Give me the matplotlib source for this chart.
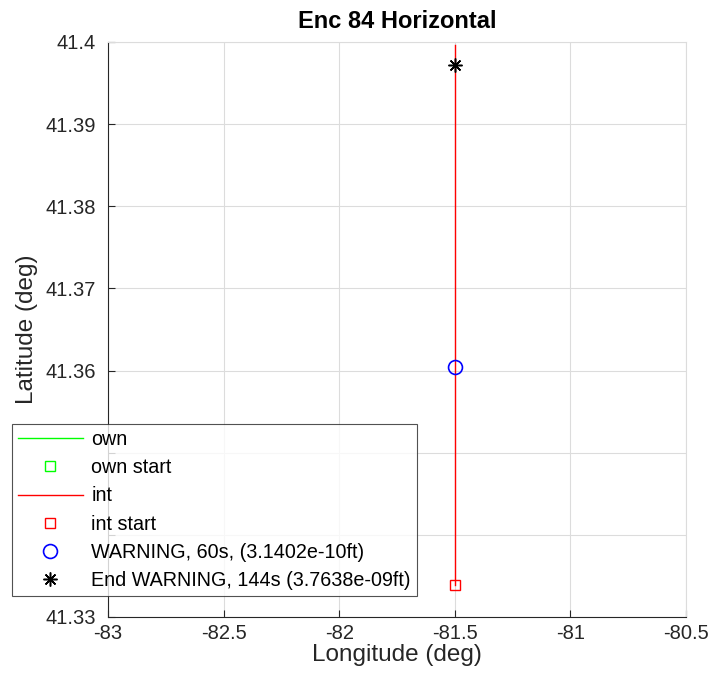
import numpy as np
import matplotlib
matplotlib.use("Agg")
import matplotlib.pyplot as plt

plt.rcParams['font.family'] = ['Liberation Sans', 'DejaVu Sans']

# track data (lon, lat); ownship track lies outside this view
own_lon = []
own_lat = []
int_lon = [-81.5, -81.5]
int_lat = [41.3339, 41.3996]
warn_lon, warn_lat = -81.5, 41.3604
end_lon, end_lat = -81.5, 41.3972

xticks = [-83, -82.5, -82, -81.5, -81, -80.5]
xtick_labels = ['-83', '-82.5', '-82', '-81.5', '-81', '-80.5']
yticks = [41.33, 41.34, 41.35, 41.36, 41.37, 41.38, 41.39, 41.40]
ytick_labels = ['41.33', '', '', '41.36', '41.37', '41.38', '41.39', '41.4']

fig = plt.figure(figsize=(7.11, 6.93), dpi=100)
ax = fig.add_axes([0.1519, 0.1097, 0.8129, 0.8297])

ax.plot(own_lon, own_lat, color='#00ff00', lw=1, label='own')
ax.plot(own_lon[:1], own_lat[:1], 's', mfc='none', mec='#00ff00', ms=7,
        label='own start')
ax.plot(int_lon, int_lat, color='#ff0000', lw=1, label='int')
ax.plot(int_lon[0], int_lat[0], 's', mfc='none', mec='#ff0000', ms=7,
        label='int start')
ax.plot(warn_lon, warn_lat, 'o', mfc='none', mec='#0000ff', ms=10, mew=1.2,
        label='WARNING, 60s, (3.1402e-10ft)')
ax.plot(end_lon, end_lat, marker=(8, 2, 0), color='black', ms=10, mew=1.1,
        ls='none', label='End WARNING, 144s (3.7638e-09ft)')

ax.set_xlim(-83, -80.5)
ax.set_ylim(41.33, 41.40)
ax.set_xticks(xticks)
ax.set_xticklabels(xtick_labels)
ax.set_yticks(yticks)
ax.set_yticklabels(ytick_labels)
ax.tick_params(direction='in', length=5, labelsize=14.5, colors='#262626')
ax.tick_params(axis='y', pad=9)
ax.tick_params(axis='x', pad=5)
ax.grid(True, color='#dcdcdc', lw=0.8)
ax.set_axisbelow(True)
for s in ['top', 'right']:
    ax.spines[s].set_color('#dcdcdc')
for s in ['left', 'bottom']:
    ax.spines[s].set_color('#262626')

ax.set_xlabel('Longitude (deg)', fontsize=17.5, color='#262626', labelpad=1)
ax.set_ylabel('Latitude (deg)', fontsize=17.5, color='#262626', labelpad=5)
ax.set_title('Enc 84 Horizontal', fontsize=17, fontweight='bold', pad=10)

leg = fig.legend(loc='upper left', bbox_to_anchor=(12 / 711, 1 - 424 / 693),
                 fontsize=14.2, frameon=True, fancybox=False, handlelength=3.3,
                 borderpad=0.3, labelspacing=0.47, handletextpad=0.42,
                 borderaxespad=0)
leg.get_frame().set_edgecolor('#262626')
leg.get_frame().set_linewidth(0.8)

fig.savefig('out.png', dpi=100)
